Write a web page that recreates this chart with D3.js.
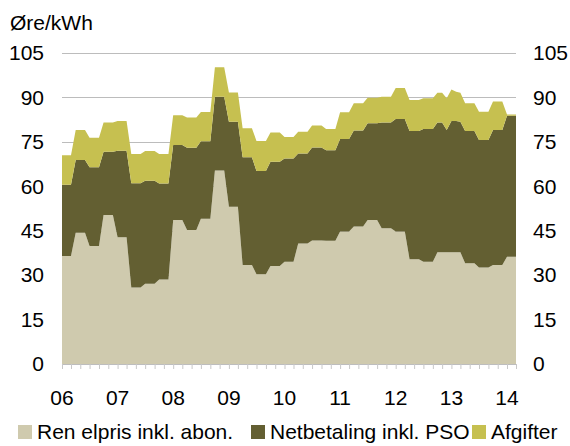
<!DOCTYPE html>
<html>
<head>
<meta charset="utf-8">
<script src="https://cdn.jsdelivr.net/npm/d3@7"></script>
<style>
  html, body { margin: 0; padding: 0; background: #fff; }
  svg { display: block; font-family: "Liberation Sans", Arial, sans-serif; }
</style>
</head>
<body>
<svg id="chart" width="570" height="446"></svg>
<script>
// Monthly observations, Jan 2006 .. Mar 2014 (99 months)
const startMonth = new Date(2006, 0, 1);
const yearLabels = ["06", "07", "08", "09", "10", "11", "12", "13", "14"];
const yTicks = [0, 15, 30, 45, 60, 75, 90, 105];
const seriesNames = ["Ren elpris inkl. abon.", "Netbetaling inkl. PSO", "Afgifter"];

const renElpris = [
  36.5, 36.5, 36.5, 44.3, 44.3, 44.3, 39.8, 39.8, 39.8, 50.3, 50.3, 50.3,
  42.8, 42.8, 42.8, 25.8, 25.8, 25.8, 27.1, 27.1, 27.1, 28.5, 28.5, 28.5,
  48.6, 48.6, 48.6, 45.2, 45.2, 45.2, 49.0, 49.0, 49.0, 65.3, 65.3, 65.3,
  53.1, 53.1, 53.1, 33.4, 33.4, 33.4, 30.3, 30.3, 30.3, 33.1, 33.1, 33.1,
  34.5, 34.5, 34.5, 40.7, 40.7, 40.7, 41.7, 41.7, 41.7, 41.6, 41.6, 41.6,
  44.7, 44.7, 44.7, 46.4, 46.4, 46.4, 48.6, 48.6, 48.6, 45.8, 45.8, 45.8,
  44.7, 44.7, 44.7, 35.4, 35.4, 35.4, 34.5, 34.5, 34.5, 37.7, 37.7, 37.7,
  37.7, 37.7, 37.7, 34.0, 34.0, 34.0, 32.6, 32.6, 32.6, 33.4, 33.4, 33.4,
  36.2, 36.2, 36.2
];
const netbetaling = [
  24.0, 24.0, 24.0, 24.6, 24.6, 24.6, 26.6, 26.6, 26.6, 21.4, 21.4, 21.4,
  29.2, 29.2, 29.2, 35.2, 35.2, 35.2, 34.8, 34.8, 34.8, 32.4, 32.4, 32.4,
  25.3, 25.3, 25.3, 27.8, 27.8, 27.8, 26.2, 26.2, 26.2, 24.9, 24.9, 24.9,
  28.7, 28.7, 28.7, 36.4, 36.4, 36.4, 34.9, 34.9, 34.9, 35.2, 35.2, 35.2,
  34.9, 34.9, 34.9, 30.4, 30.4, 30.4, 31.4, 31.4, 31.4, 30.6, 30.6, 30.6,
  31.3, 31.3, 31.3, 32.4, 32.4, 32.4, 32.7, 32.7, 32.7, 35.7, 35.7, 35.7,
  38.0, 38.0, 38.0, 43.3, 43.3, 43.3, 44.8, 44.8, 44.8, 43.8, 43.8, 41.3,
  44.3, 44.3, 44.1, 44.7, 44.7, 44.7, 43.0, 43.0, 43.0, 45.6, 45.6, 45.6,
  47.6, 47.6, 47.6
];
const afgifter = [
  10.0, 10.0, 10.0, 10.1, 10.1, 10.1, 10.0, 10.0, 10.0, 9.8, 9.8, 9.8,
  10.0, 10.0, 10.0, 9.9, 9.9, 9.9, 10.0, 10.0, 10.0, 10.0, 10.0, 10.0,
  10.1, 10.1, 10.1, 10.2, 10.2, 10.2, 9.9, 9.9, 9.9, 10.0, 10.0, 10.0,
  9.9, 9.9, 9.9, 9.8, 9.8, 9.8, 10.1, 10.1, 10.1, 9.9, 9.9, 9.9,
  7.2, 7.2, 7.2, 7.3, 7.3, 7.3, 7.4, 7.4, 7.4, 7.1, 7.1, 7.1,
  9.0, 9.0, 9.0, 9.2, 9.2, 9.2, 8.6, 8.6, 8.6, 8.7, 8.7, 8.7,
  10.5, 10.5, 10.5, 10.4, 10.4, 10.4, 10.4, 10.4, 10.4, 10.1, 10.1, 10.7,
  10.7, 9.9, 9.8, 9.3, 9.3, 9.3, 9.6, 9.6, 9.6, 9.6, 9.6, 9.6,
  0.4, 0.4, 0.4
];
const colors = ["#cfcaae", "#635f32", "#c6c050"];

const months = d3.timeMonth.range(startMonth, d3.timeMonth.offset(startMonth, renElpris.length));
const table = months.map((m, i) => ({ date: m, ren: renElpris[i], net: netbetaling[i], afg: afgifter[i] }));

const svg = d3.select("#chart");
const plotLeft = 62, plotRight = 516, plotTop = 53, plotBottom = 364;
const fontSize = 21;

const x = d3.scaleTime().domain([months[0], months[months.length - 1]]).range([plotLeft, plotRight]);
const y = d3.scaleLinear().domain([0, 105]).range([plotBottom, plotTop]);

// gridlines
svg.append("g")
  .selectAll("line")
  .data(yTicks.filter(d => d > 0))
  .join("line")
  .attr("x1", plotLeft).attr("x2", plotRight)
  .attr("y1", d => Math.round(y(d)) + 0.5).attr("y2", d => Math.round(y(d)) + 0.5)
  .attr("stroke", "#bcbcbc").attr("stroke-width", 1);

const stack = d3.stack().keys(["ren", "net", "afg"]);
const layers = stack(table);
const area = d3.area()
  .x(d => x(d.data.date))
  .y0(d => y(d[0]))
  .y1(d => y(d[1]));

svg.append("g")
  .selectAll("path")
  .data(layers)
  .join("path")
  .attr("fill", (d, i) => colors[i])
  .attr("d", area);

// x axis
const tickDates = months.filter((m, i) => i % 2 === 0);
const xAxis = d3.axisBottom(x).tickValues(tickDates).tickSize(5).tickFormat("");
const gx = svg.append("g").attr("transform", `translate(0,${plotBottom})`).call(xAxis);
gx.select(".domain").attr("stroke", "#bdbdbd");
gx.selectAll(".tick line").attr("stroke", "#c8c8c8");

const yearDates = months.filter(m => m.getMonth() === 0);
svg.append("g")
  .selectAll("text")
  .data(yearDates)
  .join("text")
  .attr("x", d => x(d))
  .attr("y", 405)
  .attr("text-anchor", "middle")
  .attr("font-size", fontSize)
  .attr("fill", "#000")
  .text((d, i) => yearLabels[i]);

// y axes (left and right)
const yLeft = d3.axisLeft(y).tickValues(yTicks).tickSize(0).tickPadding(18);
const gl = svg.append("g").attr("transform", `translate(${plotLeft},0)`).call(yLeft);
gl.select(".domain").remove();
gl.selectAll("text").attr("font-size", fontSize).attr("fill", "#000").attr("font-family", "Liberation Sans, Arial, sans-serif");

const yRight = d3.axisRight(y).tickValues(yTicks).tickSize(0).tickPadding(17);
const gr = svg.append("g").attr("transform", `translate(${plotRight},0)`).call(yRight);
gr.select(".domain").remove();
gr.selectAll("text").attr("font-size", fontSize).attr("fill", "#000").attr("font-family", "Liberation Sans, Arial, sans-serif");

// unit label
svg.append("text").attr("x", 10).attr("y", 30).attr("font-size", fontSize).attr("fill", "#000").text("Øre/kWh");

// legend
const legendX = [18, 251, 472];
const lg = svg.append("g")
  .selectAll("g")
  .data(seriesNames)
  .join("g")
  .attr("transform", (d, i) => `translate(${legendX[i]},425)`);
lg.append("rect").attr("width", 14).attr("height", 14).attr("fill", (d, i) => colors[i]);
lg.append("text").attr("x", 19).attr("y", 14).attr("font-size", fontSize).attr("fill", "#000").text(d => d);
</script>
</body>
</html>
